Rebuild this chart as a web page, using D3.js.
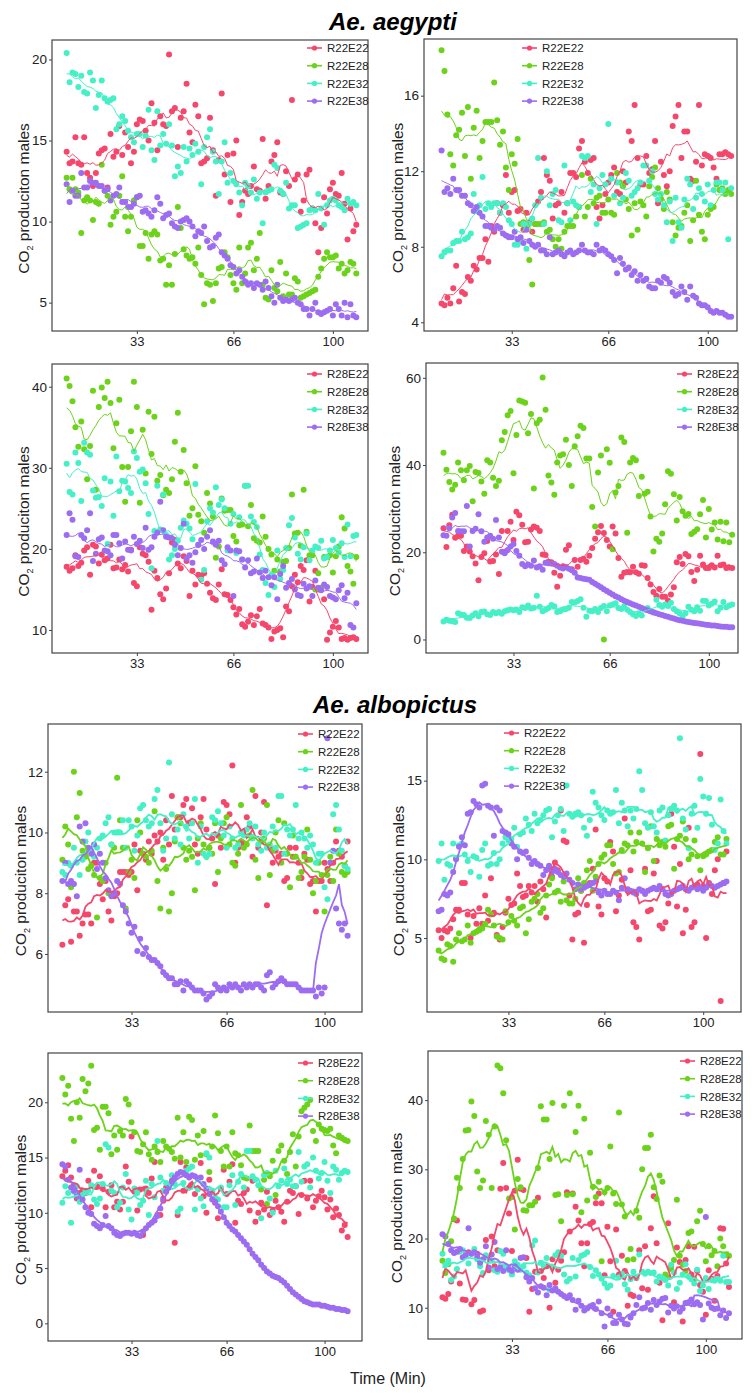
<!DOCTYPE html>
<html>
<head>
<meta charset="utf-8">
<script src="https://cdn.jsdelivr.net/npm/d3@7"></script>
<style>
  body { margin: 0; background: #fff; }
  text { font-family: "Liberation Sans", Arial, sans-serif; }
</style>
</head>
<body>
<div id="view"></div>
<script>
'use strict';

// minutes sampled, one reading per minute
const minutes = d3.range(9, 109);
const treatments = ['E22', 'E28', 'E32', 'E38'];

// ---- Ae. aegypti, R22, left ----
const aegA_E22 = [
  14.3, 13.6, 13.7, 15.2, 13.6, 13.5, 15.2, 13.0, 12.7, 12.2,
  13.0, 14.2, 14.4, 14.5, 12.1, 15.4, 14.0, 14.3, 15.9, 14.1,
  15.5, 14.6, 13.6, 14.3, 16.0, 16.3, 16.2, 15.6, 15.0, 17.3,
  16.1, 14.4, 16.5, 16.0, 15.9, 20.3, 16.8, 17.0, 14.6, 16.4,
  16.8, 18.5, 15.5, 14.9, 17.2, 16.5, 13.6, 13.7, 13.9, 16.4,
  14.4, 11.6, 13.8, 17.9, 12.9, 14.1, 11.2, 14.2, 15.0, 10.4,
  11.2, 11.9, 11.7, 12.2, 13.4, 12.0, 11.9, 15.1, 11.4, 12.2,
  13.7, 14.1, 14.9, 11.8, 11.7, 13.1, 12.2, 17.5, 12.6, 12.9,
  10.6, 11.3, 12.9, 13.2, 10.8, 9.9, 8.1, 9.6, 11.5, 10.5,
  12.0, 12.4, 11.7, 11.6, 13.0, 11.1, 8.9, 10.8, 9.4, 9.8];
const aegA_E28 = [
  12.7, 12.0, 12.7, 12.0, 11.8, 9.3, 11.3, 11.5, 11.3, 10.1,
  11.2, 11.1, 13.5, 11.9, 11.6, 9.8, 10.3, 10.6, 11.6, 12.8,
  10.3, 9.4, 10.3, 11.3, 11.5, 8.5, 8.5, 9.3, 7.7, 9.2,
  9.4, 9.2, 7.6, 7.7, 6.1, 7.3, 6.1, 8.0, 10.9, 9.6,
  8.3, 7.9, 7.7, 7.8, 7.4, 8.4, 6.7, 4.9, 6.2, 6.1,
  5.1, 6.2, 7.1, 7.2, 8.1, 7.8, 6.7, 6.2, 5.8, 8.4,
  6.2, 6.8, 8.4, 8.7, 7.0, 7.7, 9.3, 6.1, 5.3, 5.2,
  7.0, 5.9, 5.7, 7.5, 5.4, 6.8, 5.5, 5.5, 6.5, 6.3,
  5.3, 5.4, 5.5, 5.6, 5.7, 5.8, 6.6, 7.1, 7.7, 8.1,
  7.8, 7.8, 7.9, 7.1, 7.4, 6.8, 7.0, 7.5, 7.4, 6.8];
const aegA_E32 = [
  20.4, 18.6, 19.2, 19.1, 18.3, 19.0, 18.0, 17.9, 19.2, 18.7,
  17.0, 17.8, 18.7, 17.6, 17.4, 17.5, 17.6, 15.7, 16.0, 16.5,
  16.2, 15.6, 15.2, 14.9, 15.4, 15.4, 14.6, 15.3, 16.9, 14.4,
  13.8, 16.8, 14.7, 15.4, 14.8, 16.0, 14.7, 12.8, 13.4, 13.0,
  14.6, 13.7, 14.5, 14.1, 14.8, 14.3, 12.3, 14.6, 15.2, 15.7,
  14.3, 13.7, 11.7, 13.7, 14.9, 12.4, 13.0, 12.5, 12.3, 11.8,
  11.0, 12.4, 12.2, 11.8, 12.6, 11.4, 11.8, 9.9, 11.8, 11.9,
  12.0, 13.5, 13.3, 11.9, 11.7, 12.4, 10.8, 11.0, 11.0, 9.6,
  9.7, 9.8, 9.9, 10.7, 10.8, 10.7, 11.7, 10.8, 9.8, 11.0,
  11.3, 11.4, 11.3, 11.0, 10.9, 10.7, 11.4, 11.1, 11.2, 11.0];
const aegA_E38 = [
  12.3, 11.2, 11.9, 11.6, 11.6, 13.0, 12.1, 12.1, 12.5, 12.4,
  12.4, 12.2, 12.2, 11.9, 12.0, 11.3, 11.6, 11.7, 12.1, 11.2,
  11.2, 10.9, 10.9, 11.1, 11.5, 11.6, 10.6, 10.7, 10.5, 10.3,
  10.7, 11.5, 11.1, 10.2, 10.4, 10.5, 9.9, 9.7, 9.6, 10.0,
  10.1, 10.2, 10.0, 9.7, 9.1, 9.4, 9.3, 9.7, 8.8, 8.4,
  8.5, 9.0, 9.2, 8.1, 7.9, 7.7, 7.3, 7.2, 6.8, 7.0,
  6.6, 6.3, 6.1, 6.2, 5.9, 6.2, 6.1, 5.8, 6.3, 5.9,
  5.4, 5.0, 6.1, 5.3, 5.1, 5.2, 5.1, 5.2, 5.3, 5.0,
  4.9, 4.6, 4.6, 4.2, 4.6, 5.0, 4.4, 4.3, 4.4, 4.5,
  4.6, 4.2, 4.9, 4.6, 4.2, 5.0, 4.1, 4.9, 4.2, 4.1];

// ---- Ae. aegypti, R22, right ----
const aegB_E22 = [
  5.0, 4.9, 5.3, 5.0, 5.8, 7.0, 5.1, 5.6, 5.5, 6.4,
  6.2, 7.0, 6.8, 7.4, 7.4, 8.4, 7.2, 9.1, 8.8, 10.3,
  9.8, 10.2, 11.8, 9.8, 10.9, 11.0, 9.9, 10.0, 8.9, 9.8,
  9.3, 8.8, 9.2, 10.4, 10.9, 12.7, 11.8, 11.5, 9.5, 10.2,
  10.3, 10.9, 9.8, 10.3, 11.9, 11.9, 11.7, 13.2, 13.6, 12.5,
  11.9, 12.6, 12.7, 10.1, 9.5, 10.2, 10.8, 11.4, 11.8, 12.2,
  10.9, 10.8, 12.0, 11.4, 14.1, 13.6, 15.5, 12.7, 11.3, 11.3,
  12.8, 11.9, 12.1, 13.6, 10.3, 12.5, 11.8, 11.2, 12.0, 14.4,
  14.9, 15.5, 12.7, 14.1, 14.1, 11.6, 11.5, 12.5, 15.5, 12.3,
  12.9, 12.8, 12.7, 12.2, 11.6, 12.9, 12.9, 13.0, 12.9, 12.8];
const aegB_E28 = [
  18.4, 17.3, 15.0, 12.9, 12.3, 13.9, 14.2, 15.1, 12.8, 15.4,
  11.6, 14.3, 15.2, 12.7, 13.6, 14.6, 14.6, 14.6, 16.7, 14.7,
  13.4, 14.1, 12.2, 11.0, 12.9, 12.4, 13.7, 9.2, 9.3, 9.0,
  7.3, 6.0, 9.2, 9.2, 9.2, 9.3, 8.8, 8.9, 8.4, 8.0,
  8.4, 7.9, 8.8, 9.1, 9.1, 9.1, 9.6, 10.1, 11.8, 9.6,
  10.1, 11.6, 10.3, 10.6, 10.7, 9.8, 9.8, 10.5, 9.8, 9.7,
  11.9, 11.4, 11.2, 10.5, 10.0, 8.6, 10.3, 8.9, 10.4, 10.2,
  9.6, 11.2, 11.7, 12.2, 11.1, 10.5, 10.0, 10.9, 10.5, 9.3,
  8.6, 9.0, 9.1, 9.8, 10.2, 8.3, 9.4, 11.5, 9.7, 8.8,
  8.4, 9.7, 10.0, 10.1, 11.3, 11.0, 11.1, 10.8, 11.0, 10.8];
const aegB_E32 = [
  7.5, 7.7, 7.8, 7.8, 8.2, 8.3, 8.3, 8.8, 8.4, 8.5,
  8.7, 10.8, 9.9, 10.2, 11.7, 10.0, 10.3, 10.1, 10.3, 10.3,
  9.8, 10.3, 10.1, 9.4, 9.2, 8.1, 8.1, 8.3, 9.2, 7.9,
  9.2, 9.5, 10.2, 12.7, 10.6, 9.2, 12.0, 10.2, 10.8, 11.0,
  9.4, 9.3, 12.3, 10.3, 9.4, 10.4, 10.2, 10.1, 12.8, 12.7,
  12.8, 10.9, 11.3, 9.2, 11.1, 11.8, 11.3, 14.5, 11.6, 10.7,
  11.4, 10.3, 10.6, 11.9, 11.5, 10.7, 10.9, 11.1, 11.4, 12.3,
  12.3, 11.5, 12.0, 10.8, 10.5, 10.8, 10.2, 9.3, 10.4, 8.3,
  10.6, 9.3, 9.0, 10.5, 11.6, 11.3, 10.0, 10.6, 11.1, 10.8,
  10.4, 11.3, 10.2, 11.0, 11.4, 11.4, 11.0, 11.4, 8.4, 11.1];
const aegB_E38 = [
  13.1, 10.9, 11.1, 10.8, 11.6, 11.0, 11.0, 10.7, 10.7, 10.3,
  10.2, 9.9, 10.1, 9.8, 9.6, 9.1, 9.1, 9.0, 8.9, 9.1,
  9.0, 8.7, 8.6, 8.5, 8.5, 8.8, 8.4, 8.5, 8.2, 8.9,
  8.3, 8.1, 8.0, 8.1, 7.8, 7.8, 7.6, 8.5, 7.6, 7.7,
  7.8, 7.6, 7.5, 7.7, 7.8, 7.6, 7.7, 7.8, 8.1, 7.8,
  7.7, 7.7, 7.6, 8.1, 7.8, 7.9, 7.8, 7.6, 7.5, 7.3,
  6.6, 7.4, 7.1, 6.8, 6.9, 6.5, 6.7, 6.2, 6.5, 6.2,
  6.3, 5.9, 5.8, 5.8, 6.2, 6.1, 6.4, 6.3, 6.1, 5.6,
  5.4, 5.5, 5.9, 5.6, 5.2, 5.9, 5.4, 5.3, 5.0, 4.9,
  4.9, 4.8, 4.6, 4.5, 4.6, 4.5, 4.5, 4.4, 4.3, 4.3];

// ---- Ae. aegypti, R28, left ----
const aegC_E22 = [
  17.8, 17.3, 17.6, 19.2, 17.9, 18.3, 19.8, 20.2, 16.8, 20.5,
  20.3, 18.2, 19.3, 18.6, 18.8, 20.5, 17.6, 17.7, 18.7, 17.5,
  18.0, 17.2, 19.9, 15.8, 15.4, 20.2, 19.4, 19.2, 18.4, 12.5,
  17.3, 16.4, 14.4, 13.8, 15.1, 17.0, 20.8, 21.1, 18.2, 17.6,
  19.1, 18.5, 14.2, 17.3, 15.6, 16.8, 16.7, 17.0, 15.7, 14.6,
  13.9, 13.7, 15.6, 17.5, 14.4, 14.3, 13.7, 12.8, 11.9, 12.6,
  10.7, 10.4, 11.0, 11.8, 10.6, 11.7, 12.6, 10.8, 10.6, 10.3,
  8.9, 9.8, 10.0, 10.2, 9.1, 12.9, 12.3, 15.4, 16.8, 15.9,
  17.9, 17.4, 18.6, 13.5, 15.3, 17.3, 15.0, 15.2, 13.8, 8.8,
  9.7, 10.4, 11.1, 10.3, 8.9, 9.0, 8.8, 9.0, 9.1, 8.9];
const aegC_E28 = [
  41.0, 40.1, 38.2, 35.0, 32.6, 35.7, 32.3, 28.6, 32.7, 39.5,
  27.3, 37.5, 39.9, 38.6, 40.6, 38.0, 32.4, 35.5, 38.4, 30.1,
  25.8, 30.1, 34.5, 40.6, 37.5, 25.7, 34.7, 29.3, 36.9, 31.7,
  36.3, 28.4, 29.1, 26.6, 27.3, 26.9, 28.6, 33.2, 36.8, 29.5,
  32.2, 28.1, 24.1, 25.0, 30.2, 24.2, 23.4, 22.0, 26.9, 25.6,
  24.0, 18.9, 20.3, 26.2, 24.7, 24.8, 24.8, 21.6, 20.9, 22.9,
  23.0, 27.8, 22.8, 25.4, 21.3, 21.0, 20.8, 24.0, 21.5, 20.0,
  19.3, 17.3, 18.7, 17.2, 18.4, 18.5, 20.1, 26.7, 21.9, 22.0,
  20.4, 27.3, 22.1, 19.2, 19.2, 15.0, 17.0, 15.2, 19.0, 19.0,
  19.2, 17.1, 19.1, 20.3, 23.9, 22.5, 17.9, 17.2, 15.7, 19.0];
const aegC_E32 = [
  30.5, 27.0, 26.7, 31.9, 30.6, 25.9, 33.1, 31.9, 31.6, 27.2,
  26.3, 26.4, 25.3, 28.7, 20.6, 28.3, 24.1, 31.4, 27.1, 28.4,
  28.3, 27.5, 26.9, 32.0, 31.2, 29.5, 29.8, 28.1, 24.3, 17.6,
  22.2, 27.8, 22.4, 26.7, 21.7, 18.7, 19.2, 20.0, 21.0, 22.6,
  23.5, 23.1, 22.5, 21.2, 28.0, 20.5, 16.2, 17.4, 23.4, 25.0,
  24.5, 27.6, 25.4, 26.1, 25.0, 19.8, 23.1, 24.3, 19.5, 23.9,
  18.7, 27.8, 27.8, 24.0, 23.3, 22.7, 19.3, 17.4, 15.8, 14.3,
  16.8, 15.3, 19.8, 16.3, 17.4, 20.1, 22.9, 23.8, 21.4, 19.4,
  18.7, 20.2, 21.9, 18.6, 19.8, 20.3, 20.1, 21.0, 18.8, 19.0,
  19.8, 21.1, 20.1, 19.6, 20.7, 19.0, 23.0, 19.1, 21.6, 21.7];
const aegC_E38 = [
  21.7, 24.4, 23.6, 19.1, 19.0, 21.7, 21.3, 22.3, 24.4, 18.5,
  19.4, 21.2, 21.4, 19.8, 19.7, 19.2, 21.7, 21.7, 20.7, 18.8,
  20.9, 19.9, 19.8, 21.5, 20.6, 21.0, 20.1, 22.6, 19.9, 20.2,
  21.5, 22.0, 25.8, 22.3, 21.5, 21.4, 21.3, 20.5, 19.2, 20.1,
  23.1, 18.8, 19.2, 18.3, 19.6, 20.5, 21.1, 20.0, 21.5, 22.3,
  20.9, 20.5, 21.0, 18.6, 18.1, 20.2, 19.8, 14.2, 19.8, 19.7,
  18.7, 17.7, 18.6, 17.0, 17.2, 18.8, 17.1, 16.4, 17.3, 16.5,
  15.5, 16.5, 13.8, 16.9, 17.9, 15.2, 15.8, 16.3, 15.0, 14.3,
  14.2, 15.7, 15.1, 15.4, 14.2, 16.1, 15.2, 14.9, 15.6, 15.3,
  14.2, 14.0, 13.8, 14.9, 15.5, 13.9, 14.6, 10.6, 10.3, 13.3];

// ---- Ae. aegypti, R28, right ----
const aegD_E22 = [
  25.5, 21.2, 26.2, 28.6, 23.3, 23.8, 23.8, 20.3, 21.3, 20.2,
  19.1, 17.4, 13.6, 18.9, 19.8, 22.6, 17.9, 18.0, 19.5, 15.0,
  24.9, 20.1, 24.9, 27.0, 22.8, 29.3, 28.5, 26.3, 22.3, 22.4,
  25.2, 25.9, 25.6, 24.9, 19.5, 19.4, 17.8, 17.7, 15.3, 12.1,
  14.6, 16.8, 20.6, 21.6, 16.1, 18.2, 16.7, 18.2, 18.5, 17.8,
  19.2, 21.0, 23.1, 24.6, 26.0, 24.4, 22.8, 21.3, 25.9, 24.3,
  18.7, 14.4, 15.3, 15.5, 15.4, 16.7, 15.4, 15.1, 17.0, 16.9,
  14.1, 12.6, 10.9, 10.0, 11.6, 9.8, 9.8, 8.9, 10.3, 12.0,
  17.7, 18.9, 17.3, 19.6, 19.1, 15.5, 13.4, 16.0, 19.2, 17.2,
  16.4, 16.4, 17.0, 16.5, 19.2, 17.0, 17.2, 16.4, 16.5, 16.4];
const aegD_E28 = [
  42.8, 38.9, 36.1, 34.4, 35.5, 40.6, 38.8, 36.5, 38.8, 39.8,
  31.7, 38.4, 38.2, 36.2, 33.4, 41.1, 40.6, 37.1, 35.2, 36.4,
  45.7, 47.6, 51.4, 52.4, 38.1, 46.9, 54.8, 54.6, 54.3, 47.3,
  51.7, 34.6, 49.6, 50.4, 60.1, 52.7, 37.6, 36.0, 33.2, 40.6,
  42.2, 42.5, 45.8, 40.0, 35.2, 44.3, 46.6, 49.0, 48.5, 41.5,
  41.5, 30.4, 25.9, 38.3, 42.2, 0.0, 43.6, 40.5, 20.7, 33.7,
  35.2, 46.3, 45.3, 24.5, 40.6, 41.6, 41.1, 32.9, 37.3, 33.4,
  33.9, 28.2, 20.2, 23.1, 22.4, 24.3, 31.0, 38.6, 38.0, 33.3,
  27.3, 32.7, 29.4, 28.4, 28.8, 24.2, 24.7, 25.3, 28.7, 32.0,
  23.4, 29.9, 25.2, 26.8, 22.9, 27.0, 22.5, 26.8, 22.3, 24.0];
const aegD_E32 = [
  4.1, 4.5, 4.3, 4.2, 4.0, 6.0, 5.7, 5.6, 5.0, 4.9,
  5.5, 6.0, 5.3, 6.3, 6.4, 5.8, 5.6, 6.3, 6.0, 6.3,
  5.9, 6.5, 6.7, 6.9, 6.7, 6.9, 6.3, 7.4, 7.2, 7.8,
  7.1, 7.3, 10.0, 7.5, 6.5, 6.8, 7.2, 7.9, 7.6, 6.3,
  6.5, 6.9, 7.0, 7.3, 8.6, 8.5, 8.8, 9.2, 7.3, 5.2,
  6.6, 6.5, 7.0, 6.3, 7.2, 7.7, 6.5, 7.8, 8.0, 8.3,
  7.2, 7.0, 7.6, 6.8, 6.3, 5.8, 5.4, 6.0, 5.5, 7.0,
  7.2, 6.5, 6.3, 9.1, 7.9, 7.5, 8.0, 7.7, 8.4, 7.0,
  6.5, 6.0, 5.3, 6.0, 7.5, 6.8, 6.5, 7.4, 6.6, 8.9,
  8.8, 7.8, 8.2, 8.7, 6.5, 7.3, 8.6, 7.4, 7.8, 8.0];
const aegD_E38 = [
  23.9, 23.8, 25.5, 28.0, 29.0, 24.9, 24.8, 24.8, 30.6, 21.3,
  24.9, 25.4, 28.7, 24.8, 22.4, 23.4, 23.8, 23.1, 27.4, 23.4,
  20.1, 19.8, 20.5, 21.3, 21.9, 20.3, 19.2, 17.3, 16.8, 17.2,
  16.9, 18.1, 16.5, 16.8, 16.0, 17.6, 17.5, 17.4, 17.3, 16.9,
  16.5, 16.3, 16.6, 16.2, 15.9, 15.3, 14.2, 14.1, 13.9, 13.8,
  13.7, 13.2, 12.8, 12.4, 12.0, 11.5, 11.1, 10.7, 10.3, 9.9,
  9.6, 9.2, 8.9, 8.6, 8.3, 8.0, 7.8, 7.5, 7.2, 6.9,
  6.7, 6.5, 6.2, 6.0, 5.8, 5.6, 5.4, 5.2, 5.0, 4.8,
  4.6, 4.4, 4.3, 4.1, 4.0, 3.9, 3.8, 3.7, 3.6, 3.5,
  3.4, 3.3, 3.2, 3.2, 3.1, 3.0, 2.9, 2.9, 2.8, 2.8];

// ---- Ae. albopictus, R22, left ----
const albA_E22 = [
  6.3, 7.6, 7.8, 6.4, 7.4, 7.4, 6.6, 7.0, 7.3, 7.3,
  7.0, 9.0, 9.0, 8.3, 7.8, 8.4, 7.4, 7.1, 7.9, 8.0,
  8.7, 8.7, 8.7, 8.6, 8.7, 9.6, 8.1, 9.4, 9.3, 9.1,
  9.7, 9.3, 9.9, 9.7, 10.0, 9.1, 10.4, 9.6, 11.2, 10.1,
  10.5, 10.5, 10.9, 11.1, 10.3, 10.8, 9.6, 9.3, 10.5, 11.1,
  10.1, 9.5, 9.8, 8.3, 9.9, 9.5, 11.0, 10.9, 10.6, 12.2,
  9.0, 9.5, 9.7, 9.6, 10.5, 10.2, 9.2, 11.2, 9.5, 10.0,
  11.0, 7.6, 9.5, 9.0, 9.4, 9.2, 9.3, 8.4, 8.5, 9.5,
  9.2, 9.5, 9.0, 8.5, 9.3, 9.1, 8.3, 8.4, 7.4, 8.4,
  8.4, 9.0, 8.8, 8.4, 9.0, 9.7, 9.4, 9.2, 8.9, 9.7];
const albA_E28 = [
  9.1, 10.2, 9.6, 8.2, 12.0, 10.5, 11.3, 9.4, 9.2, 8.8,
  8.9, 8.6, 7.2, 8.5, 8.4, 9.0, 8.0, 9.6, 9.5, 11.8,
  10.4, 9.5, 7.5, 8.7, 9.1, 8.5, 10.4, 10.0, 9.3, 9.2,
  9.0, 9.4, 10.7, 8.4, 7.5, 9.5, 8.8, 7.4, 8.0, 9.7,
  10.5, 10.3, 9.5, 9.1, 9.4, 9.2, 8.1, 9.8, 10.3, 9.6,
  9.2, 9.5, 9.3, 10.3, 8.7, 9.8, 10.3, 10.5, 9.6, 9.0,
  8.9, 9.3, 10.9, 9.5, 9.6, 9.9, 11.4, 9.1, 8.5, 9.7,
  9.8, 10.9, 8.6, 9.4, 10.0, 10.4, 9.0, 10.3, 9.3, 8.2,
  9.9, 9.2, 8.5, 8.7, 9.2, 10.1, 9.1, 8.0, 8.4, 9.0,
  8.6, 7.4, 8.6, 9.2, 8.4, 10.1, 9.3, 8.7, 8.6, 8.7];
const albA_E32 = [
  8.7, 8.6, 9.0, 8.9, 9.5, 9.0, 8.6, 9.1, 9.7, 10.0,
  9.4, 9.2, 9.5, 9.8, 9.9, 10.3, 10.5, 9.6, 10.0, 10.0,
  10.0, 10.4, 9.5, 10.4, 10.2, 9.4, 9.9, 10.8, 10.9, 10.4,
  10.2, 10.3, 11.1, 11.4, 10.3, 9.4, 9.8, 12.3, 10.6, 9.8,
  10.1, 9.6, 10.6, 10.2, 9.8, 10.3, 11.1, 9.0, 10.2, 9.3,
  9.2, 9.3, 10.5, 10.4, 10.7, 10.3, 9.9, 9.5, 10.2, 9.8,
  9.5, 9.6, 10.0, 9.9, 10.1, 10.3, 9.8, 10.2, 9.6, 9.4,
  10.0, 9.5, 9.6, 10.2, 9.5, 11.2, 11.2, 9.3, 10.1, 9.9,
  10.1, 10.9, 9.8, 10.0, 9.8, 9.5, 9.9, 9.6, 9.0, 9.3,
  9.3, 8.2, 7.8, 9.0, 10.6, 10.9, 10.1, 9.4, 8.9, 8.8];
const albA_E38 = [
  8.4, 9.0, 8.3, 8.4, 8.3, 7.9, 10.2, 9.7, 10.3, 9.5,
  9.3, 9.6, 8.8, 9.3, 9.0, 8.5, 8.1, 7.9, 8.0, 8.4,
  8.3, 7.6, 7.4, 7.0, 6.7, 6.9, 6.1, 6.5, 6.0, 6.2,
  5.9, 5.8, 5.8, 5.7, 5.6, 5.4, 5.3, 5.2, 5.2, 5.0,
  5.0, 5.1, 4.8, 5.1, 5.0, 4.9, 4.8, 4.8, 4.8, 4.7,
  4.5, 4.6, 4.7, 5.0, 4.9, 4.8, 4.9, 4.8, 5.0, 4.9,
  5.0, 4.9, 4.8, 5.0, 4.9, 5.0, 4.9, 5.0, 5.0, 4.9,
  4.8, 5.3, 5.4, 4.9, 5.0, 5.1, 5.2, 5.1, 5.0, 5.0,
  5.0, 5.0, 4.9, 4.8, 4.8, 4.8, 4.8, 4.8, 4.6, 4.9,
  4.7, 4.9, 13.1, 9.0, 9.4, 7.5, 7.0, 6.8, 7.0, 6.6];

// ---- Ae. albopictus, R22, right ----
const albB_E22 = [
  5.5, 5.0, 5.5, 5.4, 5.6, 6.2, 6.8, 6.8, 8.5, 8.5,
  6.5, 5.0, 6.4, 5.9, 6.9, 5.9, 7.7, 6.1, 8.8, 6.6,
  5.2, 4.9, 5.7, 6.6, 7.5, 7.1, 7.2, 9.1, 8.3, 7.6,
  7.7, 8.3, 7.9, 8.3, 7.3, 8.6, 8.1, 6.3, 9.5, 8.9,
  9.8, 9.3, 13.1, 11.2, 11.1, 7.7, 4.9, 6.5, 6.6, 8.0,
  4.7, 7.1, 8.5, 9.4, 11.9, 7.0, 6.5, 8.8, 8.6, 11.1,
  10.5, 6.7, 7.7, 8.7, 12.6, 8.0, 9.3, 6.0, 5.7, 4.9,
  8.0, 9.4, 6.7, 6.8, 9.1, 9.9, 5.8, 5.6, 6.0, 7.2,
  12.9, 10.8, 7.0, 9.7, 5.3, 6.8, 12.0, 5.7, 6.0, 8.4,
  16.7, 8.3, 5.0, 8.5, 7.8, 9.3, 10.0, 1.0, 8.5, 10.5];
const albB_E28 = [
  4.2, 3.7, 3.6, 4.6, 4.5, 3.5, 4.9, 5.3, 4.8, 4.9,
  5.8, 4.7, 5.3, 5.4, 5.5, 5.6, 5.9, 6.8, 6.5, 5.8,
  5.1, 5.0, 4.9, 6.7, 6.0, 6.4, 6.1, 5.8, 6.9, 7.0,
  5.3, 6.2, 7.3, 7.5, 7.8, 6.6, 6.9, 7.7, 8.4, 8.8,
  7.9, 8.0, 7.3, 8.6, 7.4, 7.2, 7.2, 7.5, 8.8, 8.0,
  8.5, 9.3, 9.9, 8.0, 8.9, 9.7, 10.1, 10.3, 10.9, 10.9,
  9.7, 9.1, 9.2, 10.6, 11.0, 10.9, 11.7, 10.5, 11.1, 11.7,
  11.0, 9.2, 10.7, 12.1, 9.9, 11.3, 10.9, 11.1, 10.8, 12.1,
  12.2, 9.4, 11.3, 11.5, 12.4, 11.3, 10.0, 10.3, 11.2, 10.2,
  9.3, 10.2, 10.3, 10.5, 10.6, 11.1, 11.4, 10.3, 10.3, 11.3];
const albB_E32 = [
  9.9, 11.0, 8.7, 9.7, 9.6, 11.0, 10.1, 10.9, 11.0, 10.3,
  9.9, 9.2, 10.2, 10.1, 8.9, 10.6, 11.0, 9.6, 9.7, 10.4,
  9.7, 10.0, 11.0, 11.4, 11.2, 11.3, 12.0, 10.8, 11.6, 11.7,
  12.6, 12.2, 11.8, 12.9, 12.3, 12.5, 12.8, 13.1, 13.2, 11.4,
  12.4, 12.8, 13.2, 11.8, 14.7, 12.9, 12.7, 12.9, 13.0, 12.8,
  12.0, 11.5, 12.5, 14.3, 13.6, 13.3, 12.8, 12.5, 13.1, 12.9,
  13.0, 14.4, 12.3, 13.6, 13.1, 12.1, 13.1, 12.6, 13.2, 15.6,
  14.4, 12.3, 12.0, 13.0, 12.1, 11.7, 13.1, 13.3, 11.2, 12.8,
  13.2, 13.4, 13.1, 17.7, 12.6, 11.9, 10.7, 12.9, 13.4, 12.0,
  15.1, 14.0, 12.9, 13.9, 12.2, 10.6, 11.0, 13.8, 11.8, 11.0];
const albB_E38 = [
  6.7, 6.8, 7.8, 7.7, 7.9, 9.2, 10.0, 10.8, 11.4, 10.9,
  12.9, 13.0, 13.7, 13.5, 13.3, 14.7, 14.8, 13.4, 13.3, 11.5,
  13.3, 13.1, 11.8, 11.7, 11.6, 11.0, 10.8, 10.0, 10.5, 10.4,
  10.5, 10.1, 9.7, 9.9, 9.7, 9.6, 9.0, 9.3, 9.6, 9.2,
  9.4, 9.2, 9.0, 8.9, 9.1, 8.7, 8.5, 8.1, 8.4, 8.1,
  8.2, 8.3, 8.4, 8.5, 8.6, 7.9, 7.7, 8.0, 7.8, 7.8,
  8.0, 7.9, 7.4, 8.2, 8.8, 8.1, 8.0, 7.9, 7.8, 8.1,
  8.0, 7.8, 8.0, 8.1, 8.2, 8.1, 8.3, 8.1, 7.8, 7.7,
  7.8, 8.0, 8.1, 8.2, 8.3, 8.1, 8.0, 8.2, 8.3, 8.1,
  8.2, 8.0, 8.2, 8.4, 8.3, 8.2, 8.3, 8.4, 8.5, 8.6];

// ---- Ae. albopictus, R28, left ----
const albC_E22 = [
  13.3, 13.8, 14.3, 13.2, 12.5, 11.3, 11.8, 12.0, 11.8, 12.9,
  10.5, 13.8, 12.4, 13.3, 12.2, 10.5, 11.9, 12.5, 10.5, 11.0,
  10.3, 11.0, 14.2, 12.8, 16.9, 11.9, 10.2, 12.1, 8.0, 12.2,
  11.8, 13.1, 14.6, 9.8, 9.8, 11.1, 12.3, 12.5, 12.9, 7.3,
  9.8, 14.6, 12.0, 14.1, 12.3, 12.5, 11.7, 12.2, 14.5, 11.5,
  10.0, 13.0, 11.9, 10.9, 9.5, 12.2, 13.9, 11.7, 12.8, 14.4,
  9.1, 11.1, 10.8, 11.8, 12.1, 10.2, 12.9, 9.2, 10.0, 10.9,
  10.3, 11.9, 9.8, 10.2, 11.1, 10.5, 10.1, 9.2, 11.0, 12.0,
  11.8, 12.4, 9.9, 11.6, 12.9, 11.3, 12.9, 10.5, 11.1, 11.5,
  12.0, 11.4, 10.3, 11.2, 9.6, 10.4, 9.8, 8.4, 8.9, 7.8];
const albC_E28 = [
  22.2, 20.7, 21.5, 18.5, 16.5, 20.0, 18.6, 22.1, 21.0, 21.7,
  23.3, 17.5, 17.7, 15.7, 19.6, 19.6, 19.0, 15.3, 17.0, 15.7,
  17.4, 17.0, 20.3, 19.8, 18.2, 17.3, 15.6, 15.5, 16.2, 17.3,
  15.3, 14.8, 16.0, 15.5, 14.6, 16.5, 16.0, 15.8, 15.5, 14.9,
  18.6, 15.0, 17.3, 14.6, 18.7, 18.4, 14.8, 17.0, 15.2, 17.4,
  15.3, 13.7, 16.0, 18.8, 17.2, 15.6, 14.2, 16.0, 14.2, 17.3,
  15.4, 15.2, 14.3, 13.2, 13.1, 17.9, 15.6, 15.6, 15.6, 12.1,
  13.0, 10.8, 13.3, 14.7, 11.6, 15.6, 16.1, 14.7, 13.5, 15.5,
  17.1, 14.2, 16.9, 19.2, 19.5, 19.8, 20.2, 17.4, 16.5, 18.0,
  17.6, 17.5, 17.4, 17.6, 16.1, 15.4, 17.0, 16.8, 16.6, 16.5];
const albC_E32 = [
  10.9, 12.4, 11.8, 9.1, 11.9, 12.4, 11.0, 11.6, 12.0, 12.0,
  12.5, 11.2, 10.8, 11.3, 12.6, 16.2, 15.9, 12.0, 11.8, 10.5,
  10.9, 12.3, 13.5, 10.3, 9.4, 12.2, 11.8, 10.7, 11.1, 12.9,
  9.8, 12.6, 11.4, 16.5, 13.2, 12.0, 12.7, 12.4, 13.4, 12.6,
  10.1, 10.4, 12.7, 13.8, 14.0, 14.2, 10.3, 12.1, 11.3, 10.6,
  15.4, 15.0, 12.0, 11.4, 11.2, 12.3, 10.5, 10.5, 12.5, 13.4,
  10.7, 12.8, 13.5, 12.3, 15.6, 15.6, 13.3, 13.0, 12.5, 9.5,
  13.4, 13.6, 11.3, 10.0, 13.8, 12.4, 12.9, 14.0, 12.6, 13.0,
  12.4, 12.4, 15.5, 12.8, 14.2, 14.4, 12.3, 15.0, 13.8, 13.1,
  13.6, 14.6, 12.9, 11.8, 14.2, 13.9, 13.0, 13.6, 13.8, 13.7];
const albC_E38 = [
  14.4, 14.2, 13.0, 12.3, 12.0, 11.5, 13.9, 11.2, 10.5, 10.0,
  9.9, 9.0, 8.8, 8.6, 8.9, 9.7, 8.8, 8.6, 8.2, 8.0,
  7.9, 8.1, 8.2, 8.2, 8.1, 8.2, 8.0, 7.9, 8.3, 8.6,
  8.9, 9.1, 9.3, 9.7, 10.4, 11.3, 11.9, 12.3, 12.8, 13.2,
  13.5, 13.7, 13.6, 13.4, 13.2, 13.4, 13.3, 13.1, 13.2, 12.6,
  12.2, 11.7, 11.2, 11.0, 10.6, 10.1, 9.6, 9.1, 8.8, 8.5,
  8.3, 8.0, 7.7, 7.4, 7.1, 6.7, 6.3, 6.0, 5.7, 5.3,
  5.0, 4.7, 4.5, 4.3, 4.2, 4.1, 3.9, 3.7, 3.4, 3.1,
  2.8, 2.6, 2.4, 2.2, 2.0, 1.9, 1.8, 1.7, 1.7, 1.7,
  1.6, 1.6, 1.5, 1.4, 1.4, 1.3, 1.3, 1.2, 1.2, 1.1];

// ---- Ae. albopictus, R28, right ----
const albD_E22 = [
  11.5, 11.3, 12.0, 13.8, 22.8, 22.6, 13.5, 11.2, 11.1, 18.0,
  10.5, 11.1, 17.8, 9.4, 9.6, 19.8, 15.4, 20.3, 16.0, 18.3,
  27.2, 30.9, 27.3, 23.6, 18.2, 26.9, 31.4, 27.2, 27.0, 17.2,
  9.4, 12.7, 15.2, 25.9, 15.3, 14.3, 16.0, 10.0, 17.0, 13.6,
  15.5, 16.8, 18.0, 26.7, 21.0, 26.5, 24.6, 22.6, 19.3, 16.0,
  19.3, 22.1, 22.4, 25.1, 26.5, 25.1, 14.7, 21.7, 16.7, 9.4,
  21.3, 14.8, 17.5, 15.3, 10.3, 11.9, 11.7, 14.3, 18.3, 12.8,
  18.9, 12.6, 21.5, 26.1, 19.3, 13.6, 8.2, 14.1, 22.2, 16.0,
  10.8, 18.7, 16.6, 8.0, 16.9, 18.9, 14.8, 18.8, 15.3, 13.3,
  12.3, 9.0, 15.4, 14.2, 11.0, 14.6, 21.5, 21.4, 16.4, 13.0];
const albD_E28 = [
  16.8, 15.0, 16.3, 19.6, 22.9, 28.8, 27.3, 31.5, 35.6, 35.7,
  39.8, 37.7, 29.7, 27.3, 28.4, 37.0, 35.0, 27.3, 36.2, 45.0,
  44.6, 41.0, 34.2, 25.8, 26.0, 21.3, 28.6, 27.4, 24.1, 24.0,
  24.8, 24.8, 25.3, 30.2, 39.1, 37.2, 37.2, 31.5, 39.6, 26.3,
  26.4, 22.5, 39.2, 26.3, 41.0, 26.4, 35.4, 39.2, 23.8, 37.3,
  25.5, 32.4, 27.5, 26.0, 28.2, 16.7, 26.7, 27.3, 33.3, 26.5,
  25.0, 38.2, 24.9, 23.2, 16.9, 18.5, 17.0, 24.0, 23.0, 30.0,
  33.1, 33.1, 35.0, 27.4, 25.7, 29.1, 28.2, 14.8, 14.4, 15.6,
  16.9, 25.6, 17.5, 16.2, 15.3, 20.8, 21.0, 14.2, 22.5, 24.0,
  19.2, 16.7, 18.9, 17.6, 18.2, 16.0, 20.0, 18.9, 17.6, 17.5];
const albD_E32 = [
  17.8, 16.2, 16.8, 14.0, 14.5, 15.6, 18.1, 18.3, 17.5, 16.4,
  17.8, 18.5, 17.0, 16.0, 15.0, 17.6, 17.2, 16.8, 15.4, 15.2,
  18.2, 17.8, 16.0, 15.4, 14.8, 16.7, 16.2, 15.5, 16.0, 15.1,
  14.7, 19.0, 19.7, 15.1, 16.5, 16.0, 17.2, 12.6, 15.8, 17.6,
  18.0, 17.5, 14.8, 13.8, 14.2, 17.2, 14.5, 16.9, 17.5, 17.7,
  18.0, 15.9, 14.6, 15.4, 14.8, 14.2, 13.5, 12.9, 13.2, 14.6,
  16.8, 14.4, 14.9, 13.4, 12.6, 14.1, 15.2, 14.3, 17.7, 15.2,
  14.9, 15.2, 15.0, 15.1, 13.8, 14.5, 14.3, 14.0, 13.2, 16.2,
  15.1, 12.7, 13.6, 14.8, 16.3, 14.5, 14.1, 13.5, 15.5, 12.4,
  13.2, 14.3, 12.7, 14.0, 13.9, 14.2, 13.9, 17.5, 13.7, 13.7];
const albD_E38 = [
  20.6, 20.3, 19.2, 18.3, 17.9, 18.1, 18.5, 17.3, 17.6, 21.5,
  17.8, 18.0, 17.3, 16.5, 17.0, 18.9, 15.8, 17.7, 19.5, 15.6,
  15.9, 15.3, 18.3, 15.6, 15.3, 16.0, 15.5, 17.2, 17.3, 14.4,
  13.8, 14.3, 12.8, 12.2, 13.1, 12.9, 11.8, 13.3, 12.5, 12.8,
  12.3, 12.0, 11.7, 11.4, 11.8, 11.1, 9.7, 11.0, 10.3, 9.6,
  9.9, 10.2, 10.4, 9.8, 10.9, 9.2, 7.3, 9.9, 8.9, 7.8,
  7.8, 9.0, 8.3, 7.7, 7.6, 8.6, 9.2, 10.4, 11.5, 9.9,
  10.0, 10.7, 9.7, 11.1, 10.4, 10.9, 11.3, 11.4, 9.3, 10.3,
  9.9, 10.2, 9.4, 9.9, 10.7, 10.8, 11.2, 10.5, 10.8, 10.4,
  8.3, 23.1, 10.6, 10.0, 9.8, 9.9, 8.9, 9.6, 8.5, 9.2];

const xTickValues = [33, 66, 100];

const presentation = {
  colors: ['#F5476C', '#6CD21A', '#45F0C6', '#9C6CF1'],
  frame: '#444444',
  text: '#222222',
  pointRadius: 3,
  legendLine: 15,
  legendStep: 17.7
};

const panels = [
  { frame: [52, 40, 368, 331], xDomain: [4, 112], yDomain: [3.25, 21.2], yTicks: [5, 10, 15, 20],
    room: 'R22', series: [aegA_E22, aegA_E28, aegA_E32, aegA_E38], legend: [307, 48], labelX: 29, lineW: 1 },
  { frame: [424, 39, 737, 331], xDomain: [3, 110], yDomain: [3.54, 19.0], yTicks: [4, 8, 12, 16],
    room: 'R22', series: [aegB_E22, aegB_E28, aegB_E32, aegB_E38], legend: [522, 48], labelX: 403, lineW: 1 },
  { frame: [52, 364, 368, 653], xDomain: [4, 112], yDomain: [7.16, 42.8], yTicks: [10, 20, 30, 40],
    room: 'R28', series: [aegC_E22, aegC_E28, aegC_E32, aegC_E38], legend: [307, 374], labelX: 29, lineW: 1 },
  { frame: [426, 363, 738, 653], xDomain: [3, 110], yDomain: [-3.1, 63.4], yTicks: [0, 20, 40, 60],
    room: 'R28', series: [aegD_E22, aegD_E28, aegD_E32, aegD_E38], legend: [677, 374], labelX: 400, lineW: 1 },
  { frame: [48, 724, 362, 1012], xDomain: [4, 113], yDomain: [4.09, 13.57], yTicks: [6, 8, 10, 12],
    room: 'R22', series: [albA_E22, albA_E28, albA_E32, albA_E38], legend: [298, 734], labelX: 26, lineW: 1.8 },
  { frame: [427, 724, 741, 1012], xDomain: [5, 113], yDomain: [0.3, 18.6], yTicks: [5, 10, 15],
    room: 'R22', series: [albB_E22, albB_E28, albB_E32, albB_E38], legend: [504, 733], labelX: 404, lineW: 1.8 },
  { frame: [48, 1053, 362, 1341], xDomain: [4, 113], yDomain: [-1.6, 24.46], yTicks: [0, 5, 10, 15, 20],
    room: 'R28', series: [albC_E22, albC_E28, albC_E32, albC_E38], legend: [298, 1063], labelX: 26, lineW: 1.8 },
  { frame: [428, 1051, 742, 1339], xDomain: [4, 112.5], yDomain: [5.48, 47.1], yTicks: [10, 20, 30, 40],
    room: 'R28', series: [albD_E22, albD_E28, albD_E32, albD_E38], legend: [680, 1061], labelX: 402, lineW: 1.8 }
];

const svg = d3.select('#view').append('svg')
  .attr('width', 755)
  .attr('height', 1399);

svg.append('rect')
  .attr('width', 755)
  .attr('height', 1399)
  .attr('fill', '#ffffff');

// running mean drawn as the trend line of each series
function rollingMean(vals, half) {
  return vals.map((v, i) => d3.mean(vals.slice(Math.max(0, i - half), i + half + 1)));
}

panels.forEach(drawPanel);

svg.append('text')
  .attr('x', 393).attr('y', 30)
  .attr('text-anchor', 'middle')
  .attr('font-size', 24).attr('font-weight', 'bold').attr('font-style', 'italic')
  .attr('fill', '#000')
  .text('Ae. aegypti');

svg.append('text')
  .attr('x', 395).attr('y', 713)
  .attr('text-anchor', 'middle')
  .attr('font-size', 24).attr('font-weight', 'bold').attr('font-style', 'italic')
  .attr('fill', '#000')
  .text('Ae. albopictus');

svg.append('text')
  .attr('x', 388).attr('y', 1384)
  .attr('text-anchor', 'middle')
  .attr('font-size', 16)
  .attr('fill', presentation.text)
  .text('Time (Min)');

function drawPanel(p, idx) {
  const [x0, y0, x1, y1] = p.frame;
  const x = d3.scaleLinear().domain(p.xDomain).range([x0, x1]);
  const y = d3.scaleLinear().domain(p.yDomain).range([y1, y0]);
  const g = svg.append('g').attr('class', 'panel');

  g.append('clipPath').attr('id', 'clip' + idx)
    .append('rect').attr('x', x0).attr('y', y0).attr('width', x1 - x0).attr('height', y1 - y0);

  const plot = g.append('g').attr('clip-path', `url(#clip${idx})`);

  // points first, then the trend lines on top
  p.series.forEach((vals, i) => {
    const pts = minutes.map((m, j) => [m, vals[j]]).filter(d => d[1] != null);
    plot.append('g').selectAll('circle')
      .data(pts)
      .enter()
      .append('circle')
      .attr('cx', d => x(d[0]))
      .attr('cy', d => y(d[1]))
      .attr('r', presentation.pointRadius)
      .attr('fill', presentation.colors[i]);
  });

  p.series.forEach((vals, i) => {
    const sm = rollingMean(vals, 4);
    const line = d3.line().x((d, j) => x(minutes[j])).y(d => y(d));
    plot.append('path')
      .attr('d', line(sm))
      .attr('fill', 'none')
      .attr('stroke', presentation.colors[i])
      .attr('stroke-width', p.lineW);
  });

  g.append('rect')
    .attr('x', x0).attr('y', y0)
    .attr('width', x1 - x0).attr('height', y1 - y0)
    .attr('fill', 'none')
    .attr('stroke', presentation.frame)
    .attr('stroke-width', 1.2);

  const xAxis = g.append('g')
    .attr('transform', `translate(0,${y1})`)
    .call(d3.axisBottom(x).tickValues(xTickValues).tickSize(3).tickPadding(3));
  xAxis.select('.domain').remove();
  xAxis.attr('color', presentation.frame)
    .attr('font-family', '"Liberation Sans", Arial, sans-serif')
    .attr('font-size', 13);
  xAxis.selectAll('text').attr('fill', presentation.text);

  const yAxis = g.append('g')
    .attr('transform', `translate(${x0},0)`)
    .call(d3.axisLeft(y).tickValues(p.yTicks).tickSize(3).tickPadding(2));
  yAxis.select('.domain').remove();
  yAxis.attr('color', presentation.frame)
    .attr('font-family', '"Liberation Sans", Arial, sans-serif')
    .attr('font-size', 13.5);
  yAxis.selectAll('text').attr('fill', presentation.text);

  const cy = (y0 + y1) / 2 + 13;
  const label = g.append('text')
    .attr('transform', `translate(${p.labelX},${cy}) rotate(-90)`)
    .attr('text-anchor', 'middle')
    .attr('font-size', 15.5)
    .attr('fill', presentation.text);
  label.append('tspan').text('CO');
  label.append('tspan').attr('font-size', 9).attr('dy', 4).text('2');
  label.append('tspan').attr('dy', -4).text(' produciton males');

  const [lx, ly] = p.legend;
  treatments.forEach((t, i) => {
    const ry = ly + i * presentation.legendStep;
    g.append('line')
      .attr('x1', lx).attr('x2', lx + presentation.legendLine)
      .attr('y1', ry).attr('y2', ry)
      .attr('stroke', presentation.colors[i])
      .attr('stroke-width', 1.6);
    g.append('circle')
      .attr('cx', lx + presentation.legendLine / 2).attr('cy', ry)
      .attr('r', 2.6)
      .attr('fill', presentation.colors[i]);
    g.append('text')
      .attr('x', lx + 20).attr('y', ry)
      .attr('dy', '0.36em')
      .attr('font-size', 11.5)
      .attr('fill', presentation.text)
      .text(p.room + t);
  });
}
</script>
</body>
</html>
